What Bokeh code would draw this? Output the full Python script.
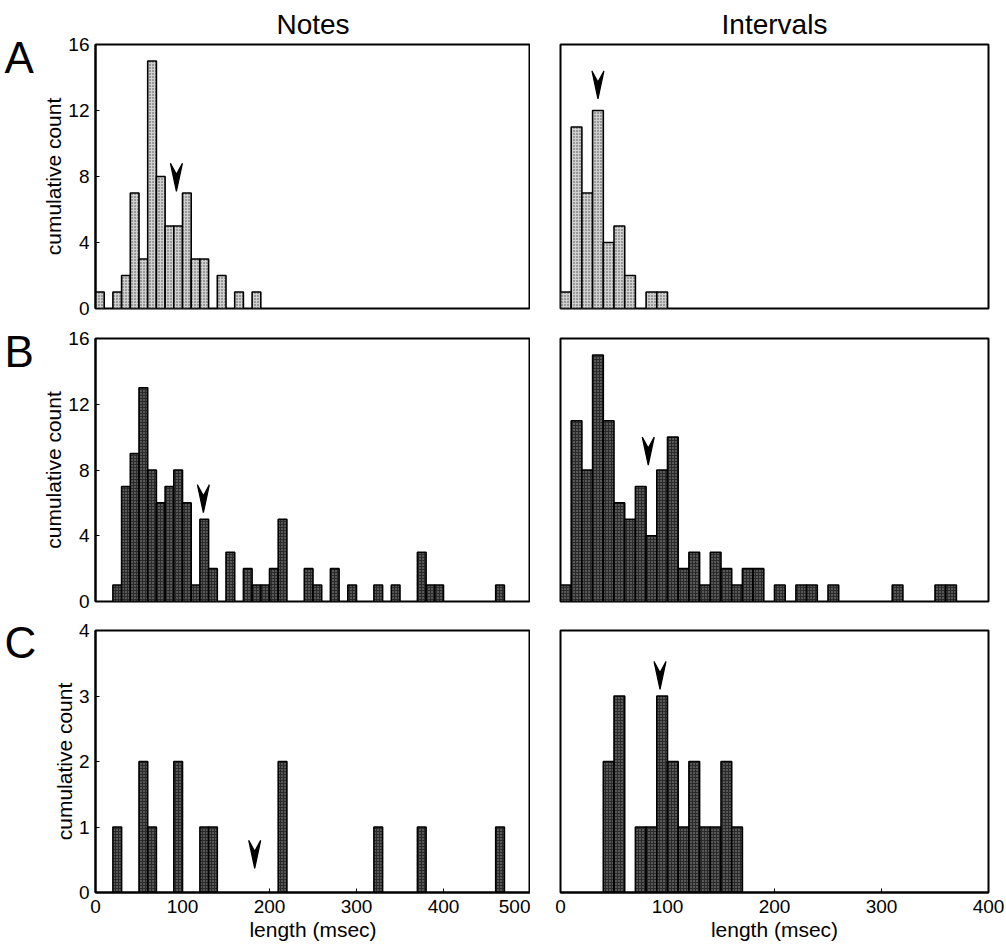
from bokeh.plotting import figure
from bokeh.layouts import column, row
from bokeh.models import Range1d, FixedTicker
from bokeh.core.properties import value
from bokeh.embed import file_html
from bokeh.resources import INLINE

BIN_W = 10

# ---- data (bin left edges in msec, counts) ----
notes_a_bins = [0, 20, 30, 40, 50, 60, 70, 80, 90, 100, 110, 120, 140, 160, 180]
notes_a_counts = [1, 1, 2, 7, 3, 15, 8, 5, 5, 7, 3, 3, 2, 1, 1]
intervals_a_bins = [0, 10, 20, 30, 40, 50, 60, 80, 90]
intervals_a_counts = [1, 11, 7, 12, 4, 5, 2, 1, 1]

notes_b_bins = [20, 30, 40, 50, 60, 70, 80, 90, 100, 110, 120, 130, 150, 170, 180,
                190, 200, 210, 240, 250, 270, 290, 320, 340, 370, 380, 390, 460]
notes_b_counts = [1, 7, 9, 13, 8, 6, 7, 8, 6, 1, 5, 2, 3, 2, 1,
                  1, 2, 5, 2, 1, 2, 1, 1, 1, 3, 1, 1, 1]
intervals_b_bins = [0, 10, 20, 30, 40, 50, 60, 70, 80, 90, 100, 110, 120, 130, 140,
                    150, 160, 170, 180, 200, 220, 230, 250, 310, 350, 360]
intervals_b_counts = [1, 11, 8, 15, 11, 6, 5, 7, 4, 8, 10, 2, 3, 1, 3,
                      2, 1, 2, 2, 1, 1, 1, 1, 1, 1, 1]

notes_c_bins = [20, 50, 60, 90, 120, 130, 210, 320, 370, 460]
notes_c_counts = [1, 2, 1, 2, 1, 1, 2, 1, 1, 1]
intervals_c_bins = [40, 50, 70, 80, 90, 100, 110, 120, 130, 140, 150, 160]
intervals_c_counts = [2, 3, 1, 1, 3, 2, 1, 2, 1, 1, 2, 1]

# mean markers (arrowheads): x position (msec), tip height (count)
arrow_x = {"A_notes": 93, "A_int": 35, "B_notes": 124, "B_int": 82, "C_notes": 183, "C_int": 93}
arrow_tip = {"A_notes": 7.1, "A_int": 12.7, "B_notes": 5.4, "B_int": 8.3, "C_notes": 0.37, "C_int": 3.1}

column_titles = ["Notes", "Intervals"]
row_letters = ["A", "B", "C"]
notes_xticks = [0, 100, 200, 300, 400, 500]
intervals_xticks = [0, 100, 200, 300, 400]
count_ticks_ab = [0, 4, 8, 12, 16]
count_ticks_c = [0, 1, 2, 3, 4]

FONT = "Liberation Sans"
LIGHT = dict(fill_color="#d0d0d0", hatch_pattern="dot", hatch_color="#444444", hatch_scale=3.0)
DARK = dict(fill_color="#2a2a2a", hatch_pattern="dot", hatch_color="#9c9c9c", hatch_scale=3.0)

LETTER_W = 37
TOTAL_H = 951
LETTER_POS = [57, 351, 642]   # vertical anchor of the panel letters, px from top


def letters_fig():
    p = figure(frame_width=LETTER_W, frame_height=TOTAL_H, min_border_left=0,
               min_border_right=0, min_border_top=0, min_border_bottom=0,
               x_range=Range1d(0, LETTER_W), y_range=Range1d(TOTAL_H, 0),
               output_backend="svg", toolbar_location=None, tools="", title=None)
    p.axis.visible = False
    p.grid.visible = False
    p.outline_line_color = None
    p.text(x=[4] * len(row_letters), y=LETTER_POS, text=row_letters,
           text_font=value(FONT), text_font_size="44px", text_color="black",
           text_baseline="alphabetic", text_align="left")
    return p


def panel(xmax, ymax, yticks, xticks, fw, fh, bl, br, bt, bb, bins, counts, style,
          akey, left=False, bottom=False, title=None):
    p = figure(frame_width=fw, frame_height=fh, min_border_left=bl, min_border_right=br,
               min_border_top=bt, min_border_bottom=bb, x_range=Range1d(0, xmax),
               y_range=Range1d(0, ymax), output_backend="svg", toolbar_location=None,
               tools="")
    p.grid.visible = False
    p.outline_line_color = "black"
    p.outline_line_width = 2
    p.background_fill_color = "white"
    p.border_fill_color = "white"
    if title:
        p.title.text = title
        p.title.align = "center"
        p.title.text_font = FONT
        p.title.text_font_size = "28px"
        p.title.text_font_style = "normal"
        p.title.text_color = "black"
        p.title.standoff = 9
    lefts = list(bins)
    rights = [b + BIN_W for b in bins]
    p.quad(left=lefts, right=rights, bottom=0, top=counts, line_color="black",
           line_width=1.6, **style)
    # arrowhead marker
    ux = xmax / fw
    uy = ymax / fh
    x0 = arrow_x[akey]
    y0 = arrow_tip[akey]
    xs = [x0 - 6 * ux, x0, x0 + 6 * ux, x0]
    ys = [y0 + 28 * uy, y0, y0 + 28 * uy, y0 + 17 * uy]
    p.patch(xs, ys, fill_color="black", line_color="black", line_width=1.2)

    p.yaxis.ticker = FixedTicker(ticks=yticks)
    p.xaxis.ticker = FixedTicker(ticks=xticks)
    for ax in [p.xaxis[0], p.yaxis[0]]:
        ax.axis_line_color = "black"
        ax.axis_line_width = 2
        ax.major_tick_in = 4
        ax.major_tick_out = 0
        ax.minor_tick_line_color = None
        ax.major_label_text_font = FONT
        ax.major_label_text_font_size = "19px"
        ax.major_label_text_color = "black"
        ax.axis_label_text_font = FONT
        ax.axis_label_text_font_size = "21px"
        ax.axis_label_text_font_style = "normal"
        ax.axis_label_text_color = "black"
    if left:
        p.yaxis.axis_label = "cumulative count"
        p.yaxis.major_label_standoff = 6
        p.yaxis.axis_label_standoff = 0
    else:
        p.yaxis.visible = False
    if bottom:
        p.xaxis.axis_label = "length (msec)"
        p.xaxis.major_label_standoff = 7
        p.xaxis.axis_label_standoff = 2
    else:
        p.xaxis.visible = False
    return p


BL = 95 - LETTER_W
# row A: top 44, frame 264, bottom 15  -> 323
# row B: top 15, frame 263, bottom 14  -> 292
# row C: top 15, frame 262, bottom 59  -> 336
pa1 = panel(500, 16, count_ticks_ab, notes_xticks, 435, 264, BL, 0, 44, 15,
            notes_a_bins, notes_a_counts, LIGHT, "A_notes", left=True, title=column_titles[0])
pa2 = panel(400, 16, count_ticks_ab, intervals_xticks, 428, 264, 30, 18, 44, 15,
            intervals_a_bins, intervals_a_counts, LIGHT, "A_int", title=column_titles[1])
pb1 = panel(500, 16, count_ticks_ab, notes_xticks, 435, 263, BL, 0, 15, 14,
            notes_b_bins, notes_b_counts, DARK, "B_notes", left=True)
pb2 = panel(400, 16, count_ticks_ab, intervals_xticks, 428, 263, 30, 18, 15, 14,
            intervals_b_bins, intervals_b_counts, DARK, "B_int")
pc1 = panel(500, 4, count_ticks_c, notes_xticks, 435, 262, BL, 0, 15, 59,
            notes_c_bins, notes_c_counts, DARK, "C_notes", left=True, bottom=True)
pc2 = panel(400, 4, count_ticks_c, intervals_xticks, 428, 262, 30, 18, 15, 59,
            intervals_c_bins, intervals_c_counts, DARK, "C_int", bottom=True)

grid = column(row(pa1, pa2, spacing=0), row(pb1, pb2, spacing=0),
              row(pc1, pc2, spacing=0), spacing=0)
layout = row(letters_fig(), grid, spacing=0)

open("out.html", "w").write(file_html(layout, INLINE))
